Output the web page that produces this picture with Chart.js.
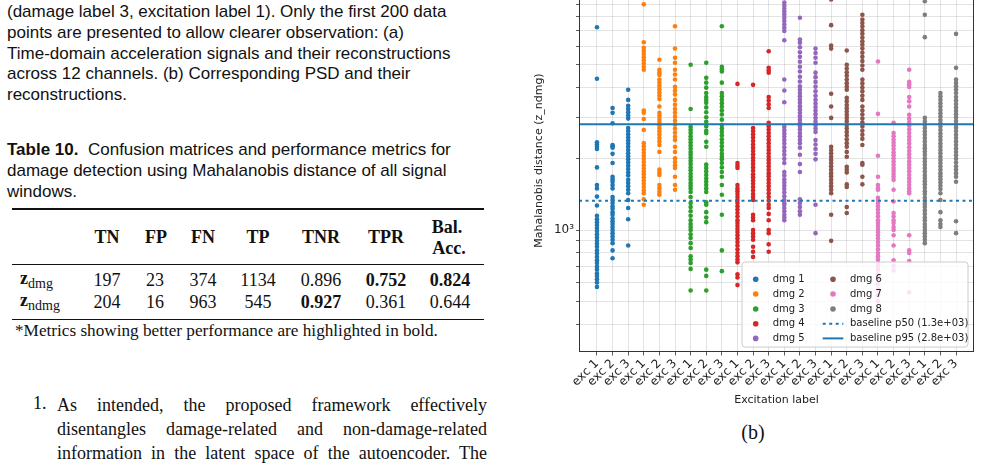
<!DOCTYPE html>
<html>
<head>
<meta charset="utf-8">
<script src="https://cdn.jsdelivr.net/npm/chart.js@4.4.0/dist/chart.umd.min.js"></script>
<style>
  body { margin: 0; width: 982px; height: 465px; overflow: hidden; background: #fff; position: relative; color: #111; }
  .abs { position: absolute; white-space: nowrap; }
  .sans { font-family: "Liberation Sans", Arial, sans-serif; font-size: 17px; line-height: 20.8px; }
  .serif { font-family: "Liberation Serif", "Times New Roman", serif; }
  .c { transform: translate(-50%, -50%); font-size: 18px; }
  .b { font-weight: bold; }
  .rule { position: absolute; left: 12px; width: 472px; background: #111; }
  .just { text-align: justify; text-align-last: justify; width: 430px; }
  #wrap { position: absolute; left: 500px; top: -60px; width: 482px; height: 475px; }
</style>
</head>
<body>

<!-- left column: caption of the previous figure -->
<div class="abs sans" style="left:7px; top:2px;">
  (damage label 3, excitation label 1). Only the first 200 data<br>
  points are presented to allow clearer observation: (a)<br>
  Time-domain acceleration signals and their reconstructions<br>
  across 12 channels. (b) Corresponding PSD and their<br>
  reconstructions.
</div>

<!-- table caption -->
<div class="abs sans" style="left:7px; top:140px;">
  <b>Table 10.</b>&nbsp; Confusion matrices and performance metrics for<br>
  damage detection using Mahalanobis distance of all signal<br>
  windows.
</div>

<!-- table -->
<div class="rule" style="top:208px; height:1.5px;"></div>
<div class="abs serif c b" style="left:107px; top:237px;">TN</div>
<div class="abs serif c b" style="left:156px; top:237px;">FP</div>
<div class="abs serif c b" style="left:203px; top:237px;">FN</div>
<div class="abs serif c b" style="left:258px; top:237px;">TP</div>
<div class="abs serif c b" style="left:321px; top:237px;">TNR</div>
<div class="abs serif c b" style="left:386px; top:237px;">TPR</div>
<div class="abs serif c b" style="left:447px; top:227px;">Bal.</div>
<div class="abs serif c b" style="left:449px; top:248px;">Acc.</div>
<div class="rule" style="top:263.5px; height:1px;"></div>

<div class="abs serif" style="left:20px; top:268px; font-size:18px;"><b>z</b><span style="font-size:14px; position:relative; top:4px;">dmg</span></div>
<div class="abs serif c" style="left:107px; top:280px;">197</div>
<div class="abs serif c" style="left:155px; top:280px;">23</div>
<div class="abs serif c" style="left:203px; top:280px;">374</div>
<div class="abs serif c" style="left:258px; top:280px;">1134</div>
<div class="abs serif c" style="left:321px; top:280px;">0.896</div>
<div class="abs serif c b" style="left:386px; top:280px;">0.752</div>
<div class="abs serif c b" style="left:450px; top:280px;">0.824</div>

<div class="abs serif" style="left:20px; top:290px; font-size:18px;"><b>z</b><span style="font-size:14px; position:relative; top:4px;">ndmg</span></div>
<div class="abs serif c" style="left:107px; top:302px;">204</div>
<div class="abs serif c" style="left:155px; top:302px;">16</div>
<div class="abs serif c" style="left:203px; top:302px;">963</div>
<div class="abs serif c" style="left:258px; top:302px;">545</div>
<div class="abs serif c b" style="left:321px; top:302px;">0.927</div>
<div class="abs serif c" style="left:386px; top:302px;">0.361</div>
<div class="abs serif c" style="left:450px; top:302px;">0.644</div>
<div class="rule" style="top:318.5px; height:1.5px;"></div>
<div class="abs serif" style="left:15px; top:321px; font-size:17.2px;">*Metrics showing better performance are highlighted in bold.</div>

<!-- numbered list -->
<div class="abs serif" style="left:33px; top:393px; font-size:18px;">1.</div>
<div class="abs serif" style="left:57px; top:393px; font-size:18px; line-height:24px; white-space:normal;">
  <div class="just">As intended, the proposed framework effectively</div>
  <div class="just">disentangles damage-related and non-damage-related</div>
  <div class="just">information in the latent space of the autoencoder. The</div>
</div>

<div class="abs serif c" style="left:753px; top:432px; font-size:20px;">(b)</div>

<div id="wrap"><canvas id="distChart" width="482" height="475"></canvas></div>

<script>
// --- data (Mahalanobis distance, z_ndmg) ---
const excLabels = ['exc 1', 'exc 2', 'exc 3', 'exc 1', 'exc 2', 'exc 3', 'exc 1', 'exc 2', 'exc 3',
                   'exc 1', 'exc 2', 'exc 3', 'exc 1', 'exc 2', 'exc 3', 'exc 1', 'exc 2', 'exc 3',
                   'exc 1', 'exc 2', 'exc 3', 'exc 1', 'exc 2', 'exc 3'];
const dmgNames = ['dmg 1', 'dmg 2', 'dmg 3', 'dmg 4', 'dmg 5', 'dmg 6', 'dmg 7', 'dmg 8'];

// each damage level: [exc 1, exc 2, exc 3]
const dmg1 = [
  [7200, 4360, 2350, 2300, 2250, 2200, 1840, 1550, 1500, 1385, 1270, 1150, 1110, 1080, 1050, 1020, 990, 960, 930, 900, 875, 850, 820, 795, 770, 745, 725, 700, 680, 655, 640, 620, 600, 575],
  [3280, 3130, 2830, 2290, 2260, 2230, 2100, 1920, 1680, 1640, 1600, 1550, 1500, 1380, 1340, 1300, 1260, 1230, 1190, 1160, 1120, 1090, 1060, 1030, 1000, 970, 940, 910, 880, 820, 760],
  [3920, 3550, 3350, 3250, 3150, 3050, 2960, 2700, 2620, 2540, 2460, 2390, 2320, 2250, 2180, 2110, 2050, 1990, 1930, 1870, 1810, 1750, 1700, 1630, 1580, 1530, 1480, 1430, 1340, 1240, 1110, 860]
];
const dmg2 = [
  [9000, 6220, 5900, 5720, 5550, 5380, 5220, 5060, 4900, 4760, 3200, 3130, 2950, 2650, 2330, 2260, 2190, 2120, 2060, 2000, 1940, 1880, 1820, 1770, 1720, 1670, 1620, 1570, 1520, 1470, 1430, 1350, 1280],
  [5250, 4760, 4640, 4530, 4330, 4200, 4070, 3940, 3820, 3700, 3580, 3330, 3130, 3040, 2950, 2860, 2770, 2690, 2610, 2530, 2450, 2370, 2290, 2140, 1800, 1750, 1710, 1550, 1500, 1450, 1410],
  [7270, 5860, 5350, 5100, 4760, 4550, 4330, 4030, 3880, 3740, 3550, 3390, 3250, 3130, 3010, 2900, 2790, 2680, 2580, 2480, 2400, 2250, 2140, 2010, 1940, 1880, 1830, 1680, 1550, 1480]
];
const dmg3 = [
  [5000, 3250, 2730, 2650, 2570, 2490, 2420, 2350, 2280, 2210, 2140, 2080, 2020, 1960, 1900, 1840, 1790, 1730, 1680, 1630, 1580, 1540, 1500, 1450, 1380, 1300, 1250, 1200, 1150, 1100, 1060, 1030, 1000, 960, 925, 880, 840, 775, 750, 725, 685, 555],
  [5100, 4400, 4200, 4000, 3800, 3650, 3550, 3450, 3300, 3150, 3000, 2870, 2740, 2630, 2570, 2360, 2250, 1890, 1830, 1770, 1710, 1650, 1600, 1550, 1500, 1450, 1310, 1280, 1190, 1130, 1080, 680, 640, 555],
  [7270, 4900, 4780, 4680, 4200, 3800, 3680, 3560, 3440, 3320, 3200, 3080, 2930, 2780, 2690, 2600, 2510, 2420, 2340, 2260, 2180, 2100, 2040, 1990, 1920, 1840, 1760, 1680, 1550, 1410, 1160, 820, 670]
];
const dmg4 = [
  [4150, 1920, 1870, 1830, 1550, 1500, 1460, 1420, 1380, 1340, 1300, 1260, 1220, 1180, 1140, 1100, 1070, 1040, 1010, 980, 950, 920, 890, 860, 830, 800, 775, 750, 730, 650, 630, 585],
  [4110, 2700, 2620, 2540, 2460, 2380, 2300, 2230, 2160, 2090, 2020, 1960, 1900, 1840, 1780, 1720, 1670, 1620, 1570, 1520, 1470, 1420, 1380, 1340, 1160, 1130, 1100, 1000, 970, 940, 910, 850, 810, 770],
  [5700, 4850, 4740, 4630, 3650, 3530, 3400, 3280, 2840, 2750, 2660, 2570, 2490, 2410, 2330, 2250, 2180, 2110, 2040, 1980, 1920, 1860, 1800, 1740, 1690, 1630, 1580, 1530, 1480, 1430, 1380, 1330, 1280, 1240, 1170, 1100, 1000, 970, 870, 810]
];
const dmg5 = [
  [9160, 8900, 8650, 8400, 8150, 7900, 7650, 7400, 7170, 6940, 6350, 4330, 3890, 3470, 2730, 2640, 2560, 2480, 2400, 2320, 2240, 2160, 2080, 2000, 1920, 1760, 1700, 1640, 1590, 1540, 1490, 1440, 1390, 1340, 1300, 1280, 1240, 1200, 1160, 1130, 1100],
  [7900, 6390, 6200, 5930, 5650, 5400, 5150, 4900, 4680, 4450, 4250, 4050, 3920, 3800, 3680, 3560, 3450, 3340, 3230, 3130, 3030, 2930, 2840, 2750, 2660, 2570, 2490, 2410, 2330, 2230, 2080, 1900, 1760, 1350, 1300, 1250, 1200, 1160],
  [5850, 5600, 5350, 5100, 4630, 4430, 4230, 4040, 3860, 3700, 3550, 3430, 3310, 3200, 3090, 2980, 2880, 2780, 2690, 2600, 2400, 2300, 2200, 2100, 1990, 1280, 970]
];
const dmg6 = [
  [9440, 7350, 6030, 5850, 3770, 3330, 2980, 2250, 2180, 2110, 2040, 1980, 1920, 1860, 1800, 1740, 1690, 1630, 1580, 1530, 1480, 1430, 1160, 900],
  [5740, 5000, 4820, 4650, 4490, 4330, 4180, 4040, 3920, 3620, 3500, 3380, 3270, 3170, 3070, 2980, 2880, 2780, 2690, 2600, 2510, 2420, 2330, 2250, 2140, 2040, 1850, 1800, 1750, 1560, 1520, 1250, 1180],
  [8140, 7760, 7500, 7250, 7000, 6760, 6520, 6280, 6080, 5850, 5620, 5400, 5180, 4960, 4760, 4330, 4170, 4010, 3860, 3700, 3550, 3330, 3200, 3080, 2960, 2850, 2740, 2630, 2530, 2430, 2290, 1920, 1890, 1680, 1560]
];
const dmg7 = [
  [5160, 3100, 2060, 1680, 1550, 1500, 1480, 1370, 1340, 1300, 1260, 1220, 1180, 1140, 1100, 1070, 1040, 1010, 980, 950, 920, 890, 860, 830, 800, 775, 750, 725, 700, 680, 650, 620, 590, 560, 530, 500],
  [2840, 2570, 2490, 2410, 2340, 2270, 2200, 2130, 2070, 2010, 1950, 1890, 1830, 1780, 1730, 1680, 1630, 1480, 1320, 1180, 1140, 1100, 1070, 1030, 1000, 950, 860, 745, 705, 675],
  [4760, 4230, 4130, 4030, 3650, 3500, 3330, 3070, 2960, 2860, 2760, 2660, 2570, 2480, 2400, 2320, 2240, 2160, 2090, 2020, 1950, 1890, 1830, 1770, 1710, 1650, 1600, 1550, 1500, 1460, 1430, 950, 820, 800, 740, 545]
];
const dmg8 = [
  [9280, 8140, 6540, 2980, 2880, 2790, 2700, 2610, 2530, 2450, 2370, 2290, 2220, 2150, 2080, 2010, 1950, 1890, 1830, 1770, 1710, 1660, 1610, 1560, 1510, 1460, 1420, 1370, 1330, 1290, 1250, 1210, 1170, 1130, 1100, 1060, 1030, 1000, 970, 940, 910, 880],
  [3800, 3680, 3560, 3440, 3330, 3220, 3120, 3020, 2920, 2830, 2740, 2650, 2560, 2480, 2400, 2320, 2250, 2180, 2110, 2040, 1980, 1920, 1860, 1800, 1740, 1690, 1640, 1590, 1540, 1490, 1430, 1340, 1190, 1100, 1060, 1030],
  [6750, 4850, 4330, 4190, 4060, 3930, 3800, 3650, 3530, 3410, 3300, 3190, 3090, 2990, 2890, 2800, 2710, 2620, 2530, 2450, 2370, 2290, 2210, 2140, 2070, 2000, 1930, 1860, 1800, 1740, 1680, 1600, 1090, 970]
];

const baselineP50 = 1330;   // label 1.3e+03
const baselineP95 = 2800;   // label 2.8e+03
const yMajorTicks = [1000, 10000];
const yMajorLabels = ['10³', '10⁴'];

// axis limits
const xMin = -1.15, xMax = 24.15;
const yMin = 305, yMax = 12700;

// tab10 colours
const palette = ['#1f77b4', '#ff7f0e', '#2ca02c', '#d62728', '#9467bd', '#8c564b', '#e377c2', '#7f7f7f'];

document.addEventListener('DOMContentLoaded', function () {

  Chart.defaults.font.family = '"DejaVu Sans", sans-serif';
  Chart.defaults.font.size = 11;
  Chart.defaults.color = '#222';

  const allDmg = [dmg1, dmg2, dmg3, dmg4, dmg5, dmg6, dmg7, dmg8];

  const scatterSets = allDmg.map((groups, d) => ({
    type: 'scatter',
    label: dmgNames[d],
    data: groups.flatMap((vals, e) => vals.map(v => ({ x: d * 3 + e, y: v }))),
    backgroundColor: palette[d],
    pointRadius: 2.3,
    pointHoverRadius: 2.3,
    borderWidth: 0,
    order: 1
  }));

  const lineSets = [
    {
      type: 'line',
      label: 'baseline p50 (1.3e+03)',
      data: [{ x: xMin, y: baselineP50 }, { x: xMax, y: baselineP50 }],
      borderColor: '#1f77b4',
      borderWidth: 2,
      borderDash: [3, 3.5],
      pointRadius: 0,
      order: 0
    },
    {
      type: 'line',
      label: 'baseline p95 (2.8e+03)',
      data: [{ x: xMin, y: baselineP95 }, { x: xMax, y: baselineP95 }],
      borderColor: '#1f77b4',
      borderWidth: 2,
      pointRadius: 0,
      order: 0
    }
  ];

  // frame round the axes + matplotlib style legend box in the lower right
  const framePlugin = {
    id: 'frameAndLegend',
    afterDatasetsDraw(chart) {
      const { ctx, chartArea } = chart;
      ctx.save();
      ctx.strokeStyle = '#333';
      ctx.lineWidth = 1;
      ctx.strokeRect(chartArea.left + 0.5, chartArea.top + 0.5,
                     chartArea.right - chartArea.left - 1, chartArea.bottom - chartArea.top - 1);

      const w = 226, h = 85;
      const x0 = chartArea.right - w - 6, y0 = chartArea.bottom - h - 5;
      ctx.beginPath();
      ctx.roundRect(x0, y0, w, h, 3);
      ctx.fillStyle = 'rgba(255,255,255,0.8)';
      ctx.fill();
      ctx.strokeStyle = '#cccccc';
      ctx.stroke();

      ctx.font = '10px "DejaVu Sans", sans-serif';
      ctx.textBaseline = 'middle';
      ctx.textAlign = 'left';
      const rows = [17.3, 32, 47, 61.7, 76.4];
      // left column: dmg 1..5, right column: dmg 6..8 then baselines
      dmgNames.forEach((name, i) => {
        const col = i < 5 ? 0 : 1;
        const r = i < 5 ? i : i - 5;
        const mx = x0 + (col ? 91 : 13.7);
        const tx = x0 + (col ? 108 : 30.7);
        ctx.fillStyle = palette[i];
        ctx.beginPath();
        ctx.arc(mx, y0 + rows[r], 2.8, 0, Math.PI * 2);
        ctx.fill();
        ctx.fillStyle = '#222';
        ctx.fillText(name, tx, y0 + rows[r]);
      });
      lineSets.forEach((ds, i) => {
        const y = y0 + rows[3 + i];
        ctx.strokeStyle = ds.borderColor;
        ctx.lineWidth = 2;
        ctx.setLineDash(ds.borderDash || []);
        ctx.beginPath();
        ctx.moveTo(x0 + 80.7, y);
        ctx.lineTo(x0 + 101.3, y);
        ctx.stroke();
        ctx.setLineDash([]);
        ctx.fillStyle = '#222';
        ctx.fillText(ds.label, x0 + 108, y);
      });
      ctx.restore();
    }
  };

  const ctx = document.getElementById('distChart').getContext('2d');

  new Chart(ctx, {
    data: { datasets: lineSets.concat(scatterSets) },
    options: {
      responsive: false,
      animation: false,
      devicePixelRatio: 1,
      layout: { padding: { left: 30, right: 8, top: 29, bottom: 0 } },
      plugins: { legend: { display: false }, tooltip: { enabled: false } },
      scales: {
        x: {
          type: 'linear',
          min: xMin,
          max: xMax,
          afterBuildTicks: function (scale) {
            scale.ticks = excLabels.map((_, i) => ({ value: i }));
          },
          afterFit: function (scale) { scale.height = 63; },
          ticks: {
            autoSkip: false,
            minRotation: 45,
            maxRotation: 45,
            padding: 1,
            color: '#222',
            font: { size: 12 },
            callback: function (value) { return excLabels[value]; }
          },
          grid: {
            color: 'rgba(0,0,0,0.14)',
            lineWidth: 0.8,
            borderDash: [2.5, 2.5],
            tickLength: 3.5,
            tickColor: '#333',
            tickWidth: 0.8,
            tickBorderDash: []
          },
          border: { display: false },
          title: {
            display: true,
            text: 'Excitation label',
            color: '#222',
            padding: { top: 0, bottom: 8 }
          }
        },
        y: {
          type: 'logarithmic',
          min: yMin,
          max: yMax,
          afterBuildTicks: function (scale) {
            const t = [];
            [100, 1000, 10000].forEach(base => {
              for (let k = 1; k <= 9; k++) {
                const v = base * k;
                if (v >= yMin && v <= yMax) t.push({ value: v, major: yMajorTicks.includes(v) });
              }
            });
            scale.ticks = t;
          },
          afterFit: function (scale) { scale.width = 49; },
          ticks: {
            autoSkip: false,
            padding: 2,
            color: '#222',
            font: { size: 12 },
            callback: function (value) {
              const i = yMajorTicks.indexOf(value);
              return i >= 0 ? yMajorLabels[i] : '';
            }
          },
          grid: {
            color: 'rgba(0,0,0,0.14)',
            lineWidth: 0.8,
            borderDash: [2.5, 2.5],
            tickLength: 3,
            tickColor: '#333',
            tickWidth: 0.8,
            tickBorderDash: []
          },
          border: { display: false },
          title: {
            display: true,
            text: 'Mahalanobis distance (z_ndmg)',
            color: '#222',
            padding: { top: 3, bottom: 0 }
          }
        }
      }
    },
    plugins: [framePlugin]
  });

});
</script>
</body>
</html>
